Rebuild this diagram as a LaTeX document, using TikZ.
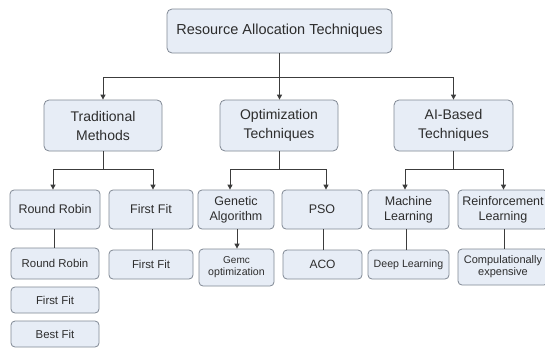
\documentclass[tikz,border=0pt]{standalone}
\usepackage{fontspec}
\setmainfont{Liberation Sans}
\usetikzlibrary{arrows.meta}
\definecolor{boxfill}{RGB}{231,237,246}
\definecolor{boxline}{RGB}{128,136,148}
\definecolor{wirecol}{RGB}{60,60,60}
\definecolor{txt}{RGB}{45,45,45}
\begin{document}
\begin{tikzpicture}[x=1pt,y=-1pt,
  box/.style={draw=boxline,fill=boxfill,line width=0.8pt,rounded corners=5pt,
    inner sep=0pt,align=center,text=txt},
  lvlone/.style={box,font=\fontsize{14.5}{17}\selectfont},
  lvltwo/.style={box,font=\fontsize{14}{19}\selectfont},
  lvlthree/.style={box,rounded corners=4pt,font=\fontsize{12.5}{15}\selectfont},
  lvlfour/.style={box,rounded corners=4pt,font=\fontsize{11.4}{12}\selectfont},
  small/.style={box,rounded corners=4pt,font=\fontsize{10.6}{12}\selectfont},
  wire/.style={draw=wirecol,line width=1pt},
  arr/.style={wire,-{Triangle[length=5pt,width=5pt]}}]
\useasboundingbox (0,0) rectangle (545,348);
\fill[white] (0,0) rectangle (545,348);
\begin{scope}
\clip (0,0) rectangle (545,348);

% root
\node[lvlone,minimum width=225pt,minimum height=44pt] (root) at (279.5,31) {Resource Allocation Techniques};

% categories
\node[lvltwo,minimum width=118pt,minimum height=51pt] (trad) at (103,125.5) {Traditional\\Methods};
\node[lvltwo,minimum width=118pt,minimum height=51pt] (opt) at (279,125.5) {Optimization\\Techniques};
\node[lvltwo,minimum width=119pt,minimum height=51pt] (ai) at (453.5,125.5) {AI-Based\\Techniques};

% methods
\node[lvlthree,minimum width=90pt,minimum height=39pt] (rr) at (55,209.5) {Round Robin};
\node[lvlthree,minimum width=84pt,minimum height=39pt] (ff) at (151,209.5) {First Fit};
\node[lvlthree,minimum width=76pt,minimum height=39pt] (ga) at (236,209.5) {Genetic\\Algorithm};
\node[lvlthree,minimum width=80pt,minimum height=39pt] (pso) at (322,209.5) {PSO};
\node[lvlthree,minimum width=81pt,minimum height=39pt] (ml) at (408.5,209.5) {Machine\\Learning};
\node[lvlthree,minimum width=90pt,minimum height=39pt] (rl) at (503,209.5) {Reinforcement\\Learning};

% details
\node[lvlfour,minimum width=88pt,minimum height=31pt] (rrb) at (55,263.5) {Round Robin};
\node[lvlfour,minimum width=88pt,minimum height=26pt] (ffa) at (55,300) {First Fit};
\node[lvlfour,minimum width=88pt,minimum height=26pt] (bf) at (55,334) {Best Fit};
\node[lvlfour,minimum width=84pt,minimum height=29pt] (ffb) at (151,264.5) {First Fit};
\node[small,minimum width=75pt,minimum height=37pt] (gemc) at (236.5,267.5) {{\fontsize{10}{12}\selectfont Gemc}\\optimization};
\node[lvlfour,minimum width=79pt,minimum height=29pt,font=\fontsize{12}{14}\selectfont] (aco) at (322.5,264.5) {ACO};
\node[small,minimum width=81pt,minimum height=29pt] (dl) at (408.5,264.5) {Deep Learning};
\node[small,minimum width=90pt,minimum height=36pt,font=\fontsize{11}{12}\selectfont] (comp) at (503,267) {Compulationally\\expensive};

% root to categories
\coordinate (busa) at (0,77);
\draw[arr] (root.south) -- (root.south |- opt.north);
\draw[arr] (root.south |- busa) -| (trad.north);
\draw[arr] (root.south |- busa) -| (ai.north);

% categories to methods
\draw[arr] (trad.south) -- ++(0,18) -| ([xshift=-2pt]rr.north);
\draw[arr] (trad.south) -- ++(0,18) -| ([xshift=2pt]ff.north);
\draw[arr] (opt.south) -- ++(0,18) -| ([xshift=-6pt]ga.north);
\draw[arr] (opt.south) -- ++(0,18) -| ([xshift=4pt]pso.north);
\draw[arr] (ai.south) -- ++(0,18) -| ([xshift=-3.5pt]ml.north);
\draw[arr] (ai.south) -- ++(0,18) -| ([xshift=0.5pt]rl.north);

% methods to details
\draw[wire] ([xshift=-1pt]rr.south) -- ([xshift=-1pt]rr.south |- rrb.north);
\draw[wire] ([xshift=1pt]ff.south) -- ([xshift=1pt]ff.south |- ffb.north);
\draw[arr] ([xshift=1pt]ga.south) -- ([xshift=1pt]ga.south |- gemc.north);
\draw[wire] ([xshift=1pt]pso.south) -- ([xshift=1pt]pso.south |- aco.north);
\draw[wire] ([xshift=-2.5pt]ml.south) -- ([xshift=-2.5pt]ml.south |- dl.north);
\draw[wire] ([xshift=1pt]rl.south) -- ([xshift=1pt]rl.south |- comp.north);
\end{scope}
\end{tikzpicture}
\end{document}
